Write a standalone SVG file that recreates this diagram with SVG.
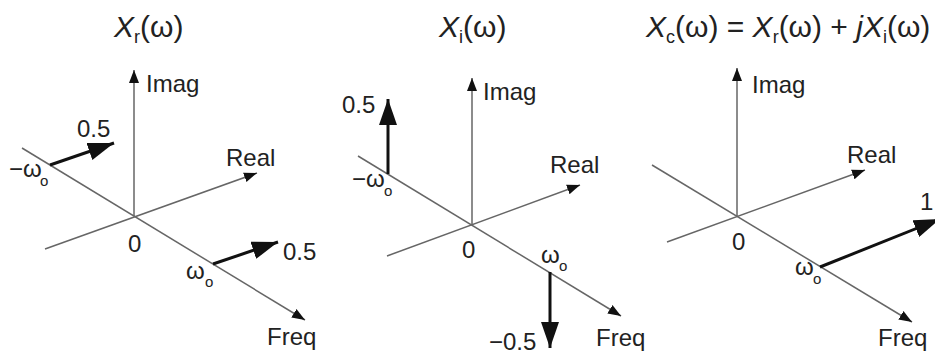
<svg xmlns="http://www.w3.org/2000/svg" width="935" height="356" viewBox="0 0 935 356">
<style>
text{font-family:"Liberation Sans",Arial,sans-serif;fill:#222;font-size:24px}
.t{font-size:30px}
.sub{font-size:15px}
.t .sub{font-size:18px}
.ax{stroke:#666;stroke-width:1.5;fill:none}
.ax.a{marker-end:url(#ah)}
.v{stroke:#111;stroke-width:3;fill:none;marker-end:url(#vh)}
</style>
<defs>
<marker id="ah" markerUnits="userSpaceOnUse" markerWidth="14" markerHeight="12" refX="13" refY="5" orient="auto" viewBox="0 0 14 10">
<path d="M0,0 L13,5 L0,10 Z" fill="#111"/>
</marker>
<marker id="vh" markerUnits="userSpaceOnUse" markerWidth="27" markerHeight="18" refX="26" refY="9" orient="auto" viewBox="0 0 27 18">
<path d="M0,0 L26,9 L0,18 Z" fill="#111"/>
</marker>
</defs>

<g id="connectors">
<!-- panel 1 axes -->
<line class="ax a" x1="134" y1="216" x2="134" y2="70"/>
<line class="ax a" x1="22" y1="148" x2="305" y2="320"/>
<line class="ax a" x1="45" y1="249" x2="257" y2="173"/>
<!-- panel 2 axes -->
<line class="ax a" x1="472" y1="225" x2="472" y2="78"/>
<line class="ax a" x1="358" y1="156" x2="621" y2="316"/>
<line class="ax a" x1="387" y1="256" x2="580" y2="185"/>
<!-- panel 3 axes -->
<line class="ax a" x1="737" y1="217" x2="737" y2="68"/>
<line class="ax a" x1="652" y1="165" x2="912" y2="322"/>
<line class="ax a" x1="667" y1="242" x2="865" y2="170"/>
<!-- value arrows -->
<line class="v" x1="50" y1="165" x2="114" y2="143"/>
<line class="v" x1="213" y1="264" x2="278" y2="242"/>
<line class="v" x1="388" y1="174" x2="388" y2="99"/>
<line class="v" x1="550" y1="272" x2="550" y2="348"/>
<line class="v" x1="820" y1="267" x2="940" y2="219"/>
</g>

<g id="panel1">
<text class="t" x="114" y="37"><tspan font-style="italic">X</tspan><tspan class="sub" dy="6">r</tspan><tspan dy="-6">(ω)</tspan></text>
<text x="146" y="92">Imag</text>
<text x="226" y="166">Real</text>
<text x="77" y="137">0.5</text>
<text x="9" y="177">−ω</text><text class="sub" x="40" y="186">o</text>
<text x="128" y="252">0</text>
<text x="186" y="279">ω</text><text class="sub" x="205" y="287">o</text>
<text x="283" y="260">0.5</text>
<text x="267" y="345">Freq</text>
</g>

<g id="panel2">
<text class="t" x="439" y="37"><tspan font-style="italic">X</tspan><tspan class="sub" dy="6">i</tspan><tspan dy="-6">(ω)</tspan></text>
<text x="483" y="100">Imag</text>
<text x="550" y="173">Real</text>
<text x="342" y="113">0.5</text>
<text x="352" y="187">−ω</text><text class="sub" x="384" y="196">o</text>
<text x="462" y="258">0</text>
<text x="541" y="263">ω</text><text class="sub" x="559" y="271">o</text>
<text x="489" y="350">−0.5</text>
<text x="596" y="346">Freq</text>
</g>

<g id="panel3">
<text class="t" x="646" y="37"><tspan font-style="italic">X</tspan><tspan class="sub" dy="6">c</tspan><tspan dy="-6">(ω) = </tspan><tspan font-style="italic">X</tspan><tspan class="sub" dy="6">r</tspan><tspan dy="-6">(ω) + </tspan><tspan font-style="italic">jX</tspan><tspan class="sub" dy="6">i</tspan><tspan dy="-6">(ω)</tspan></text>
<text x="752" y="93">Imag</text>
<text x="847" y="163">Real</text>
<text x="732" y="250">0</text>
<text x="795" y="275">ω</text><text class="sub" x="813" y="284">o</text>
<text x="920" y="210">1</text>
<text x="878" y="346">Freq</text>
</g>
</svg>
